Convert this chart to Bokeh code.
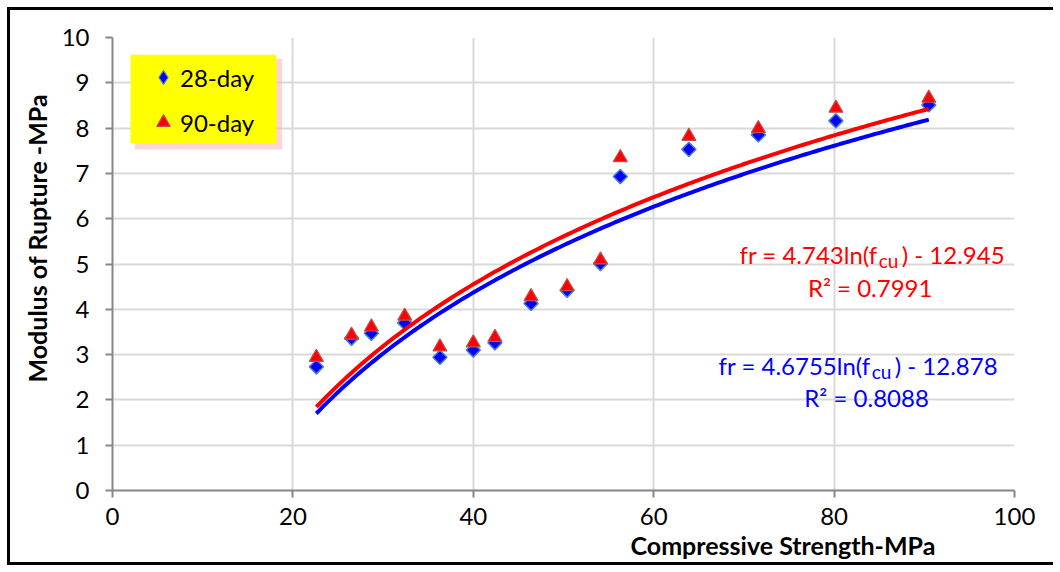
import numpy as np
from bokeh.plotting import figure
from bokeh.models import Range1d, Label, Legend, LegendItem, BoxAnnotation, FixedTicker, Title
from bokeh.embed import file_html
from bokeh.resources import INLINE

# ---- data ----
fcu = [22.6, 26.5, 28.7, 32.4, 36.3, 40.0, 42.4, 46.4, 50.4, 54.1, 56.3, 63.9, 71.6, 80.2, 90.5]
mr_28 = [2.73, 3.36, 3.47, 3.70, 2.94, 3.10, 3.26, 4.13, 4.42, 5.01, 6.93, 7.53, 7.85, 8.16, 8.51]
mr_90 = [2.94, 3.43, 3.61, 3.85, 3.17, 3.26, 3.38, 4.28, 4.50, 5.09, 7.35, 7.82, 7.99, 8.44, 8.66]
series_names = ["28-day", "90-day"]
# logarithmic trendlines shown on the chart: fr = a*ln(fcu) + b
fit_28 = (4.6755, -12.878)
fit_90 = (4.743, -12.945)
r2_28 = "0.8088"
r2_90 = "0.7991"
x_ticks = [0, 20, 40, 60, 80, 100]
y_ticks = [0, 1, 2, 3, 4, 5, 6, 7, 8, 9, 10]
x_title = "Compressive Strength-MPa"
y_title = "Modulus of  Rupture -MPa"

FONT = "Lato"

p = figure(width=1046, height=558, output_backend="svg", toolbar_location=None,
           x_range=Range1d(0, 100), y_range=Range1d(0, 10),
           min_border_left=102, min_border_right=42, min_border_top=27, min_border_bottom=78)
p.styles = {"margin-left": "7px", "margin-top": "7px",
            "border-left": "3px solid black", "border-top": "3px solid black",
            "border-bottom": "3px solid black"}
p.outline_line_color = None
p.background_fill_color = "white"
p.border_fill_color = "white"

for ax in (p.xaxis[0], p.yaxis[0]):
    ax.axis_line_color = "#868686"
    ax.axis_line_width = 2
    ax.major_tick_line_color = "#868686"
    ax.major_tick_line_width = 2
    ax.major_tick_out = 7
    ax.major_tick_in = 0
    ax.minor_tick_line_color = None
    ax.major_label_text_font = FONT
    ax.major_label_text_font_size = "24px"
    ax.major_label_text_color = "black"

p.xaxis.ticker = FixedTicker(ticks=x_ticks)
p.yaxis.ticker = FixedTicker(ticks=y_ticks)
p.xaxis.major_label_standoff = 10
p.yaxis.major_label_standoff = 16

p.xgrid.ticker = FixedTicker(ticks=x_ticks)
p.ygrid.ticker = FixedTicker(ticks=y_ticks)
for g in (p.xgrid[0], p.ygrid[0]):
    g.grid_line_color = "#d9d9d9"
    g.grid_line_width = 2

# axis titles (off-centre as in the reference)
p.add_layout(Title(text=x_title, align="left", offset=518, standoff=0, text_font=FONT,
                   text_font_size="25px", text_font_style="bold", text_color="black"), "below")
p.add_layout(Title(text=y_title, align="left", offset=108, standoff=13, text_font=FONT,
                   text_font_size="25px", text_font_style="bold", text_color="black"), "left")

# legend box with soft red shadow
p.add_layout(BoxAnnotation(left=2.5, right=18.8, top=9.53, bottom=7.53,
                           fill_color="#ffb0b0", fill_alpha=0.55, line_color=None))
p.add_layout(BoxAnnotation(left=2.0, right=18.18, top=9.62, bottom=7.66,
                           fill_color="#ffff00", fill_alpha=1, line_color=None))

# legend swatch for the 28-day series (legend swatches ignore marker angle); it lies
# entirely beneath the rotated-square markers, so it is not visible in the plot
lg28 = p.scatter(fcu, mr_28, marker="diamond", size=12, fill_color="#0000ff",
                 line_color="#4f81bd", line_width=1.2)
r28 = p.scatter(fcu, mr_28, marker="square", angle=np.pi / 4, size=10,
                fill_color="#0000ff", line_color="#4f81bd", line_width=1.5)
r90 = p.scatter(fcu, mr_90, marker="triangle", size=14,
                fill_color="#ff0000", line_color="#c0504d", line_width=1.2)

xs = np.linspace(min(fcu), max(fcu), 200)
p.line(xs, fit_28[0] * np.log(xs) + fit_28[1], line_color="#0000ff", line_width=4)
p.line(xs, fit_90[0] * np.log(xs) + fit_90[1], line_color="#ff0000", line_width=4)

legend = Legend(items=[LegendItem(label=series_names[0], renderers=[lg28]),
                       LegendItem(label=series_names[1], renderers=[r90])],
                location=(34, 350), background_fill_alpha=0, border_line_color=None,
                padding=0, spacing=9, label_height=36, glyph_height=36,
                glyph_width=34, label_standoff=0,
                label_text_font=FONT, label_text_font_size="24px", label_text_color="black")
p.add_layout(legend, "center")


def eq(a_text, c_text, x, y, color):
    common = dict(text_font=FONT, text_color=color, text_baseline="alphabetic")
    p.add_layout(Label(x=x, y=y, x_offset=-1, text=a_text, text_align="right",
                       text_font_size="24px", **common))
    p.add_layout(Label(x=x, y=y, y_offset=-6, text="cu", text_align="left",
                       text_font_size="19px", **common))
    p.add_layout(Label(x=x, y=y, x_offset=23, text=c_text, text_align="left",
                       text_font_size="24px", **common))


eq("fr = %sln(f" % fit_90[0], ") - %s" % abs(fit_90[1]), 84.95, 5.22, "#ff0000")
p.add_layout(Label(x=84.0, y=4.49, text="R² = " + r2_90, text_align="center", text_baseline="alphabetic",
                   text_font=FONT, text_font_size="24px", text_color="#ff0000"))
eq("fr = %sln(f" % fit_28[0], ") - %s" % abs(fit_28[1]), 84.17, 2.75, "#0000ff")
p.add_layout(Label(x=83.6, y=2.06, text="R² = " + r2_28, text_align="center", text_baseline="alphabetic",
                   text_font=FONT, text_font_size="24px", text_color="#0000ff"))

open("out.html", "w").write(file_html(p, INLINE))
